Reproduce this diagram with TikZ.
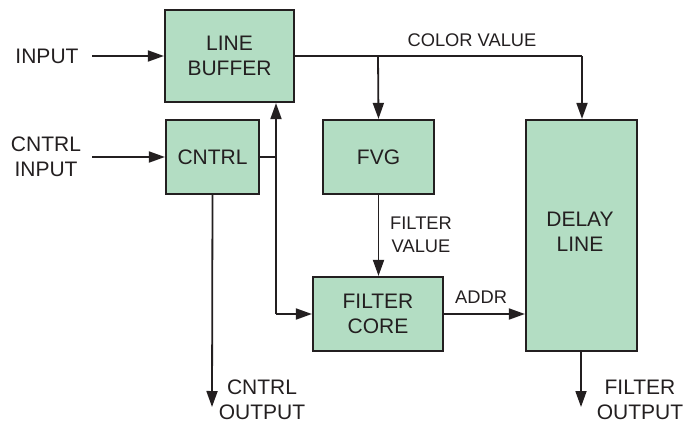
\documentclass[tikz,border=0pt]{standalone}
\usepackage{fontspec}
\setmainfont{Liberation Sans}
\usetikzlibrary{arrows.meta}
\definecolor{boxgreen}{HTML}{B3DDC3}
\definecolor{ink}{HTML}{231F20}
\begin{document}
\begin{tikzpicture}[x=1pt,y=-1pt,
  blk/.style={draw=ink,line width=2.2pt,fill=boxgreen,inner sep=0pt,align=center,font=\fontsize{21}{25}\selectfont,text=ink},
  lbl/.style={font=\fontsize{21}{25}\selectfont,text=ink,align=center,inner sep=0pt},
  slbl/.style={font=\fontsize{18.3}{23}\selectfont,text=ink,align=center,inner sep=0pt},
  wire/.style={draw=ink,line width=1.8pt},
  arr/.style={wire,-{Triangle[length=16pt,width=11pt]}}]
\useasboundingbox (0,0) rectangle (685,423);
\node[blk,minimum width=129pt,minimum height=92pt] (lb) at (229.5,56) {LINE\\BUFFER};
\node[blk,minimum width=93pt,minimum height=74pt] (cn) at (212.5,157) {CNTRL};
\node[blk,minimum width=111pt,minimum height=74pt] (fvg) at (378.5,157) {FVG};
\node[blk,minimum width=111pt,minimum height=231pt] (dl) at (581.5,235.5) {};
\node[lbl] (dlt) at (580,232) {DELAY\\LINE};
\node[blk,minimum width=130pt,minimum height=74pt] (fc) at (378,314) {FILTER\\CORE};
\node[lbl] (in) at (47,56) {INPUT};
\node[lbl] (cin) at (46,157) {CNTRL\\INPUT};
\node[slbl] (cv) at (472,40) {COLOR VALUE};
\node[slbl,anchor=west] (fv) at (390,235) {FILTER\\VALUE};
\node[slbl,anchor=west] (ad) at (455,297) {ADDR};
\node[lbl] (co) at (262,400) {CNTRL\\OUTPUT};
\node[lbl] (fo) at (640,400) {FILTER\\OUTPUT};
\coordinate (inS) at (92,56);
\coordinate (cinS) at (92,157);
\coordinate (j1) at (378,56);
\coordinate (j2) at (582,56);
\coordinate (up) at (276,157);
\coordinate (bend) at (276,314);
\coordinate (coE) at (212,407);
\coordinate (foE) at (581,407);
\draw[arr] (inS) -- (lb.west);
\draw[arr] (cinS) -- (cn.west);
\draw[wire] (lb.east) -- (j2);
\draw[arr] (j1) -- (fvg.north);
\draw[arr] (j2) -- (dl.north -| j2);
\draw[wire] (cn.east) -- (up);
\draw[arr] (bend) -- (lb.south -| bend);
\draw[arr] (bend) -- (fc.west);
\draw[arr] (fvg.south) -- (fc.north -| fvg.south);
\draw[arr] (fc.east) -- (dl.west |- fc.east);
\draw[arr] (cn.south) -- (coE);
\draw[arr] (dl.south -| foE) -- (foE);
\end{tikzpicture}
\end{document}
